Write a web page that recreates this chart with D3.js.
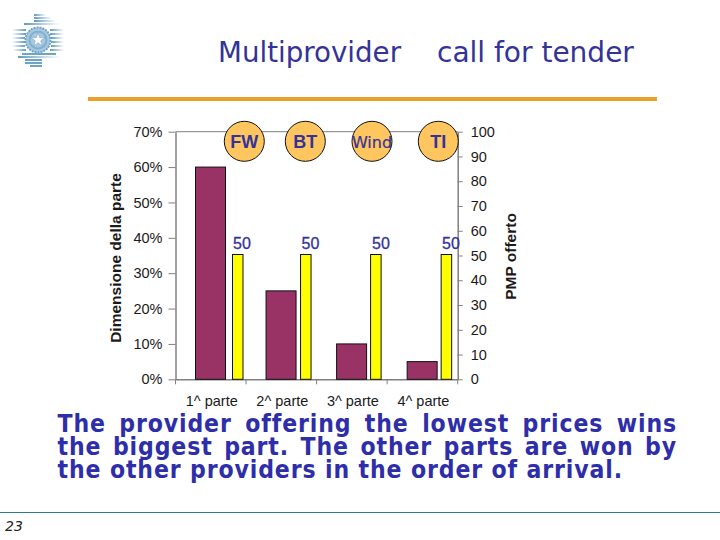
<!DOCTYPE html>
<html>
<head>
<meta charset="utf-8">
<script src="https://cdn.jsdelivr.net/npm/d3@7"></script>
<style>
html, body { margin: 0; padding: 0; background: #fff; }
svg { display: block; }
</style>
</head>
<body>
<div id="chart"></div>
<script>
// ---------- DATA ----------
var parts = ['1^ parte', '2^ parte', '3^ parte', '4^ parte'];
var partSize = [60, 25, 10, 5];          // % Dimensione della parte
var pmpOffered = [50, 50, 50, 50];       // PMP offerto
var providers = ['FW', 'BT', 'Wind', 'TI'];
var offerLabels = ['50', '50', '50', '50'];
var leftTicks = [0, 10, 20, 30, 40, 50, 60, 70];
var rightTicks = [0, 10, 20, 30, 40, 50, 60, 70, 80, 90, 100];
var bodyLines = [
    'The provider offering the lowest prices wins',
    'the biggest part. The other parts are won by',
    'the other providers in the order of arrival.'
];

// ---------- PAGE ----------
var blue = '#333399';
var svg = d3.select('#chart').append('svg')
    .attr('width', 720)
    .attr('height', 540);

svg.append('text').attr('x', 218).attr('y', 62)
    .style('font', '27.7px "DejaVu Sans"').style('fill', blue)
    .text('Multiprovider');
svg.append('text').attr('x', 437).attr('y', 62)
    .style('font', '28px "DejaVu Sans"').style('fill', blue)
    .text('call for tender');

svg.append('rect').attr('x', 88).attr('y', 97)
    .attr('width', 569).attr('height', 4).style('fill', '#e8a02a');

// logo: stripes fading outwards, round seal in the middle
var defs = svg.append('defs');
var fadeL = defs.append('linearGradient').attr('id', 'fadeL');
fadeL.append('stop').attr('offset', '0%').style('stop-color', '#fff');
fadeL.append('stop').attr('offset', '100%').style('stop-color', '#1f6f9f');
var fadeR = defs.append('linearGradient').attr('id', 'fadeR');
fadeR.append('stop').attr('offset', '0%').style('stop-color', '#1f6f9f');
fadeR.append('stop').attr('offset', '100%').style('stop-color', '#fff');

// [y, x from, x to]
var stripesLeft = [[30, 12, 26], [34, 12, 26], [38, 12, 25], [42, 12, 25], [46, 12, 25], [50, 13, 26]];
var stripesRight = [[15, 34, 46], [18, 34, 52], [21, 34, 56], [24, 24, 60], [30, 50, 64], [34, 50, 64], [38, 51, 64], [42, 51, 64], [46, 51, 64], [50, 50, 64], [57, 18, 60]];
var stripesBottom = [[54, 22, 56], [60, 25, 42], [63, 25, 42], [66, 30, 42]];

var logo = svg.append('g');
function drawStripes(rows, paint) {
    logo.selectAll(null)
        .data(rows)
        .enter()
        .append('rect')
            .attr('x', function(d){ return d[1]; })
            .attr('y', function(d){ return d[0] - 0.7; })
            .attr('width', function(d){ return d[2] - d[1]; })
            .attr('height', 1.4)
            .style('fill', paint);
}
drawStripes(stripesLeft, 'url(#fadeL)');
drawStripes(stripesRight, 'url(#fadeR)');
drawStripes(stripesBottom, '#2f7fae');

logo.append('circle').attr('cx', 38).attr('cy', 40).attr('r', 12.5)
    .style('fill', '#a9c8de').style('stroke', '#6fa3c7').style('stroke-width', 2).style('stroke-dasharray', '2 1');
logo.append('circle').attr('cx', 38).attr('cy', 40).attr('r', 8.5)
    .style('fill', 'none').style('stroke', '#7fb0cf').style('stroke-width', 2);
logo.append('path')
    .attr('transform', 'translate(38,40)')
    .attr('d', d3.symbol().type(d3.symbolStar).size(60)())
    .style('fill', '#fff').style('stroke', '#6b9fc2').style('stroke-width', 0.5);

// ---------- CHART ----------
var plotLeft = 175.5, plotRight = 457.7, plotTop = 131.7, plotBottom = 379.3;

var x = d3.scaleBand().domain(parts).range([plotLeft, plotRight]);
var yLeft = d3.scaleLinear().domain([0, 70]).range([plotBottom, plotTop]);
var yRight = d3.scaleLinear().domain([0, 100]).range([plotBottom, plotTop]);

// plot frame top
svg.append('line').attr('x1', plotLeft).attr('x2', plotRight)
    .attr('y1', plotTop).attr('y2', plotTop)
    .style('stroke', '#808080').style('stroke-width', 1);

var leftAxis = svg.append('g')
    .attr('transform', 'translate(' + plotLeft + ',0)')
    .call(d3.axisLeft(yLeft).tickValues(leftTicks).tickSize(7).tickSizeOuter(0).tickFormat(function(d){ return d + '%'; }));
var rightAxis = svg.append('g')
    .attr('transform', 'translate(' + plotRight + ',0)')
    .call(d3.axisRight(yRight).tickValues(rightTicks).tickSize(5).tickSizeOuter(0));
var bottomAxis = svg.append('g')
    .attr('transform', 'translate(0,' + plotBottom + ')')
    .call(d3.axisBottom(x).tickSize(0).tickSizeOuter(0));

// ticks between the categories
svg.selectAll('line.xtick')
    .data(parts.concat(['end']))
    .enter()
    .append('line')
        .attr('x1', function(d, i){ return plotLeft + i * x.step(); })
        .attr('x2', function(d, i){ return plotLeft + i * x.step(); })
        .attr('y1', plotBottom)
        .attr('y2', plotBottom + 5)
        .style('stroke', '#808080');

[leftAxis, rightAxis, bottomAxis].forEach(function(a){
    a.selectAll('path, line').style('stroke', '#808080');
    a.selectAll('path').style('stroke-width', 1.5);
    a.selectAll('text').style('font', '14.5px "Liberation Sans"').style('fill', '#1a1a1a');
});
leftAxis.selectAll('text').attr('x', -13);
rightAxis.selectAll('text').attr('x', 13);
bottomAxis.selectAll('text').attr('y', 16);
bottomAxis.selectAll('text').attr('dx', 1);

// axis titles
svg.append('text')
    .attr('transform', 'translate(121,258) rotate(-90)')
    .attr('text-anchor', 'middle')
    .style('font', 'bold 15.5px "Liberation Sans"').style('fill', '#1a1a1a')
    .text('Dimensione della parte');
svg.append('text')
    .attr('transform', 'translate(516,256.5) rotate(-90)')
    .attr('text-anchor', 'middle')
    .style('font', 'bold 15.5px "Liberation Sans"').style('fill', '#1a1a1a')
    .text('PMP offerto');

// maroon bars
var maroonOffset = 20, maroonWidth = 30;
svg.selectAll('rect.part')
    .data(partSize)
    .enter()
    .append('rect')
        .attr('class', 'part')
        .attr('x', function(d, i){ return x(parts[i]) + maroonOffset; })
        .attr('y', function(d){ return yLeft(d); })
        .attr('width', maroonWidth)
        .attr('height', function(d){ return plotBottom - yLeft(d); })
        .style('fill', '#993366')
        .style('stroke', '#111').style('stroke-width', 1);

// yellow bars (hand placed in the slide, they stand a pixel above the 50 tick)
var yellowOffset = [57, 54.5, 54, 54], yellowWidth = 10.5;
svg.selectAll('rect.pmp')
    .data(pmpOffered)
    .enter()
    .append('rect')
        .attr('class', 'pmp')
        .attr('x', function(d, i){ return x(parts[i]) + yellowOffset[i]; })
        .attr('y', function(d){ return yRight(d) - 1; })
        .attr('width', yellowWidth)
        .attr('height', function(d){ return plotBottom - yRight(d) + 1; })
        .style('fill', '#ffff00')
        .style('stroke', '#111').style('stroke-width', 1);

// provider circles
var circleX = [244.3, 305.3, 372, 438.3];
svg.selectAll('circle.provider')
    .data(providers)
    .enter()
    .append('circle')
        .attr('class', 'provider')
        .attr('cx', function(d, i){ return circleX[i]; })
        .attr('cy', 141.3)
        .attr('r', 20)
        .style('fill', '#ffc55f')
        .style('stroke', '#111').style('stroke-width', 1);
svg.selectAll('text.provider')
    .data(providers)
    .enter()
    .append('text')
        .attr('class', 'provider')
        .attr('x', function(d, i){ return circleX[i]; })
        .attr('y', 147.5)
        .attr('text-anchor', 'middle')
        .style('font', function(d){ return d == 'Wind' ? '16px "DejaVu Sans"' : 'bold 18px "Liberation Sans"'; })
        .style('stroke', function(d){ return d == 'Wind' ? blue : 'none'; })
        .style('stroke-width', 0.2)
        .style('fill', blue)
        .text(function(d){ return d; });

// 50 labels
var labelX = [242, 310.5, 381, 451];
svg.selectAll('text.offer')
    .data(offerLabels)
    .enter()
    .append('text')
        .attr('class', 'offer')
        .attr('x', function(d, i){ return labelX[i]; })
        .attr('y', 249)
        .attr('text-anchor', 'middle')
        .style('font', '16px "Liberation Sans"')
        .style('stroke', blue).style('stroke-width', 0.3)
        .style('fill', blue)
        .text(function(d){ return d; });

// ---------- BODY TEXT ----------
var bodyX = 57.5, bodyRight = 677, lastRight = 623;
var body = svg.selectAll('text.body')
    .data(bodyLines)
    .enter()
    .append('text')
        .attr('class', 'body')
        .attr('x', bodyX)
        .attr('y', function(d, i){ return 432 + i * 23; })
        .style('font-family', '"DejaVu Sans Condensed", "DejaVu Sans"')
        .style('font-weight', 'bold')
        .style('font-stretch', 'condensed')
        .style('font-size', '24.5px')
        .style('fill', '#2e2eaa')
        .text(function(d){ return d; });

// last line sets the letter spacing, the first two are then justified by word spacing
var lastNode = body.nodes()[bodyLines.length - 1];
var tracking = (lastRight - bodyX - lastNode.getComputedTextLength()) / lastNode.textContent.length;
body.style('letter-spacing', tracking + 'px');
body.each(function(d, i){
    if (i == bodyLines.length - 1) return;
    var gaps = d.split(' ').length - 1;
    var extra = (bodyRight - bodyX - this.getComputedTextLength()) / gaps;
    d3.select(this).style('word-spacing', extra + 'px');
});

// ---------- FOOTER ----------
svg.append('line').attr('x1', 0).attr('x2', 720).attr('y1', 512.5).attr('y2', 512.5)
    .style('stroke', '#2e7d8c').style('stroke-width', 1);
svg.append('text').attr('x', 5).attr('y', 531)
    .style('font', 'italic 14px "DejaVu Sans"').style('fill', '#222')
    .text('23');
</script>
</body>
</html>
